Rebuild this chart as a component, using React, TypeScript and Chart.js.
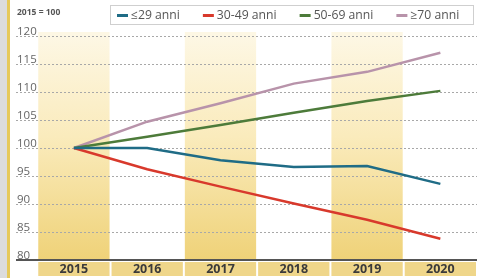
import React, { useEffect, useRef } from "react";
import { Chart, registerables } from "chart.js";

Chart.register(...registerables);

const categories = ["2015", "2016", "2017", "2018", "2019", "2020"];
const seriesNames = ["≤29 anni", "30-49 anni", "50-69 anni", "≥70 anni"];
const under29 = [100, 100, 97.8, 96.6, 96.8, 93.6];
const age30to49 = [100, 96.2, 93.1, 90.1, 87.2, 83.8];
const age50to69 = [100, 102.0, 104.1, 106.3, 108.4, 110.2];
const over70 = [100, 104.7, 108.0, 111.5, 113.6, 117.0];
const yTicks = [80, 85, 90, 95, 100, 105, 110, 115, 120];
const baseNote = "2015 = 100";

const colors = ["#1f6c86", "#d8392c", "#4d7b3a", "#b893aa"];

const decorPlugin = {
  id: "decor",
  beforeDraw(chart: any) {
    const { ctx, width, height } = chart;
    ctx.save();
    ctx.fillStyle = "#ffffff";
    ctx.fillRect(0, 0, width, height);
    ctx.fillStyle = "#dcdcdc";
    ctx.fillRect(0, 0, 7, height);
    ctx.fillStyle = "#e6c95a";
    ctx.fillRect(7, 0, 3, height);
    ctx.restore();
  },
  beforeDatasetsDraw(chart: any) {
    const { ctx, chartArea } = chart;
    const xs = chart.scales.x;
    const ys = chart.scales.y;
    ctx.save();
    // bands
    categories.forEach((c, i) => {
      const l = xs.getPixelForValue(i - 0.5) + 1;
      const r = xs.getPixelForValue(i + 0.5) - 1;
      if (i % 2 === 0) {
        const g = ctx.createLinearGradient(0, chartArea.top, 0, chartArea.bottom);
        g.addColorStop(0, "rgba(253,247,228,1)");
        g.addColorStop(0.45, "rgba(250,235,188,1)");
        g.addColorStop(1, "rgba(239,210,120,1)");
        ctx.fillStyle = g;
        ctx.fillRect(l, chartArea.top - 4, r - l, chartArea.bottom - chartArea.top + 4);
      }
      // label boxes
      ctx.fillStyle = "#efd68a";
      ctx.fillRect(l, chartArea.bottom + 2, r - l, 14);
      ctx.fillStyle = "#3a3a3a";
      ctx.font = "bold 12.5px 'Open Sans'";
      ctx.textAlign = "center";
      ctx.textBaseline = "middle";
      ctx.fillText(c, (l + r) / 2, chartArea.bottom + 9.5);
    });
    // grid lines and tick labels
    yTicks.forEach((v) => {
      const y = Math.round(ys.getPixelForValue(v)) + 0.5;
      if (v !== yTicks[0]) {
        ctx.strokeStyle = "#a8a8a8";
        ctx.lineWidth = 1;
        ctx.setLineDash([2, 2]);
        ctx.beginPath();
        ctx.moveTo(chartArea.left, y);
        ctx.lineTo(chartArea.right, y);
        ctx.stroke();
      }
      ctx.setLineDash([]);
      ctx.fillStyle = "#666666";
      ctx.font = "11.5px 'Open Sans'";
      ctx.textAlign = "left";
      ctx.textBaseline = "alphabetic";
      ctx.fillText(String(v), chartArea.left + 1, y - 2);
    });
    // axis line
    const yb = ys.getPixelForValue(yTicks[0]);
    ctx.strokeStyle = "#555555";
    ctx.lineWidth = 2;
    ctx.beginPath();
    ctx.moveTo(chartArea.left, yb);
    ctx.lineTo(chartArea.right, yb);
    ctx.stroke();
    // base note
    ctx.fillStyle = "#555555";
    ctx.font = "bold 8.5px 'Open Sans'";
    ctx.textAlign = "left";
    ctx.textBaseline = "middle";
    ctx.fillText(baseNote, chartArea.left + 1, 13);
    // legend box
    ctx.fillStyle = "#ffffff";
    ctx.fillRect(110.5, 5.5, 363, 19);
    ctx.strokeStyle = "#cfcfcf";
    ctx.lineWidth = 1;
    ctx.strokeRect(110.5, 5.5, 363, 19);
    ctx.font = "12.2px 'Open Sans'";
    let x = 117;
    chart.data.datasets.forEach((ds: any) => {
      ctx.fillStyle = ds.borderColor;
      ctx.fillRect(x, 14, 11, 3);
      ctx.fillStyle = "#555555";
      ctx.textBaseline = "middle";
      ctx.fillText(ds.label, x + 14, 15.5);
      x += 14 + ctx.measureText(ds.label).width + 23;
    });
    ctx.restore();
  },
};

export default function App() {
  const ref = useRef<HTMLCanvasElement>(null);
  useEffect(() => {
    if (!ref.current) return;
    const seriesData = [under29, age30to49, age50to69, over70];
    const chart = new Chart(ref.current, {
      type: "line",
      data: {
        datasets: seriesData.map((arr, k) => ({
          label: seriesNames[k],
          data: arr.map((v, i) => ({ x: i, y: v })),
          borderColor: colors[k],
          backgroundColor: colors[k],
          borderWidth: 2.5,
          pointRadius: 0,
          tension: 0,
          fill: false,
        })),
      },
      options: {
        responsive: false,
        animation: false,
        events: [],
        layout: { padding: { left: 16, right: 6, top: 36, bottom: 18 } },
        plugins: { legend: { display: false }, tooltip: { enabled: false } },
        scales: {
          x: { type: "linear", min: -0.79, max: 5.5, display: false },
          y: { type: "linear", min: 80, max: 120, display: false },
        },
      },
      plugins: [decorPlugin],
    });
    return () => chart.destroy();
  }, []);
  return (
    <div style={{ position: "absolute", left: 0, top: 0, width: 483, height: 278 }}>
      <canvas ref={ref} width={483} height={278} style={{ display: "block" }} />
    </div>
  );
}
